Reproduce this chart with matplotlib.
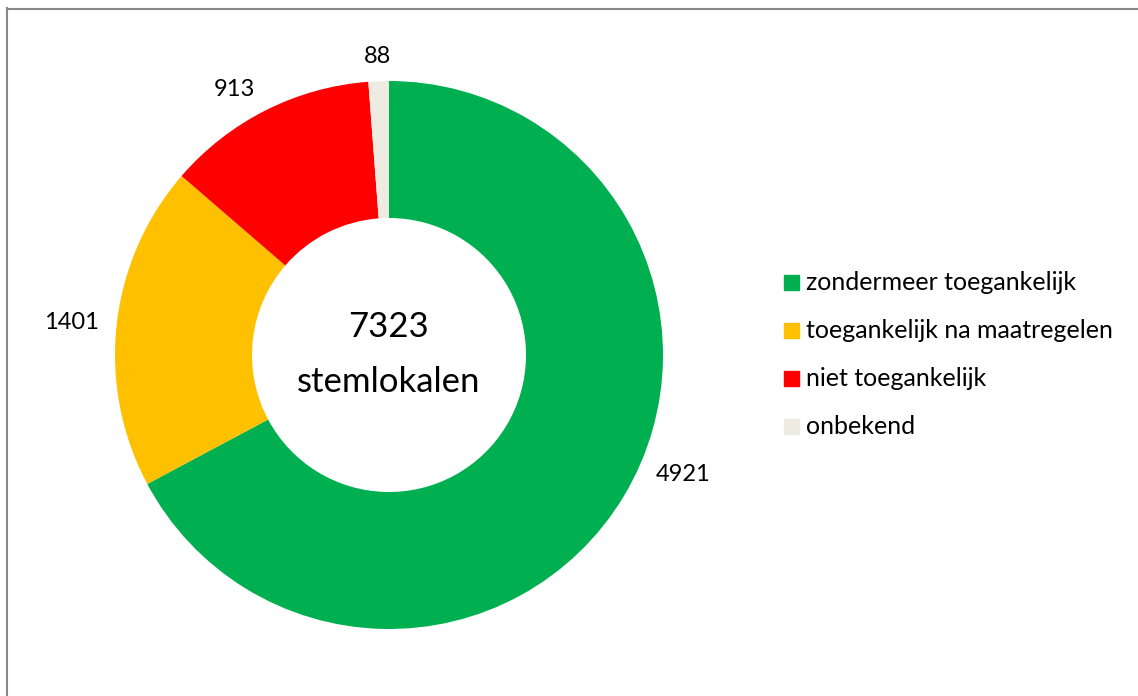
import numpy as np
import matplotlib.pyplot as plt
from matplotlib.patches import Rectangle
from matplotlib.lines import Line2D

# data
categories = ["zondermeer toegankelijk", "toegankelijk na maatregelen",
              "niet toegankelijk", "onbekend"]
values = [4921, 1401, 913, 88]
colors = ["#00B050", "#FFC000", "#FF0000", "#EEECE1"]
center_label = "stemlokalen"

plt.rcParams['font.family'] = ['Lato', 'DejaVu Sans']

W, H = 1138, 696
fig = plt.figure(figsize=(W / 100, H / 100), dpi=100)

# pie axes: centre (389, 355) px, radius 274 px
cx, cy, R = 389, 355, 274
half = 300
ax = fig.add_axes([(cx - half) / W, 1 - (cy + half) / H, 2 * half / W, 2 * half / H])

r = R / half
wedges, texts = ax.pie(values, colors=colors, radius=r, startangle=90,
                       counterclock=False, labels=[str(v) for v in values],
                       labeldistance=1.1,
                       wedgeprops=dict(width=r * 0.5, linewidth=0),
                       textprops=dict(fontsize=17))
ax.set_xlim(-1, 1)
ax.set_ylim(-1, 1)
ax.set_aspect('equal')
ax.axis('off')

# best-fit style label placement: distance factor and angle shift per label
dist = [1.068, 1.065, 1.087, 1.09]
shift = [6.8, 0, 0, 0]
for w, t, d, s in zip(wedges, texts, dist, shift):
    a = np.deg2rad((w.theta1 + w.theta2) / 2 + s)
    t.set_position((d * r * np.cos(a), d * r * np.sin(a)))
texts[3].set_ha('center')

ax.text(0, 0.06, str(sum(values)), ha='center', va='baseline', fontsize=25)
ax.text(0, -0.123, center_label, ha='center', va='baseline', fontsize=25)

# legend drawn by hand
ly0, dy = 283, 47.7
for i, (c, name) in enumerate(zip(colors, categories)):
    y = ly0 + i * dy
    fig.patches.append(Rectangle((784 / W, 1 - (y + 7.5) / H), 15 / W, 15 / H,
                                 transform=fig.transFigure, color=c))
    fig.text(806 / W, 1 - y / H, name, ha='left', va='center', fontsize=18)

# chart frame (only top and left edges inside the image)
fig.add_artist(Line2D([6.5 / W, 6.5 / W], [0, 1 - 8 / H], color='#888888', lw=1.5,
                      transform=fig.transFigure))
fig.add_artist(Line2D([6.5 / W, 1], [1 - 8.5 / H, 1 - 8.5 / H], color='#888888', lw=1.5,
                      transform=fig.transFigure))

fig.savefig("out.png", dpi=100)
